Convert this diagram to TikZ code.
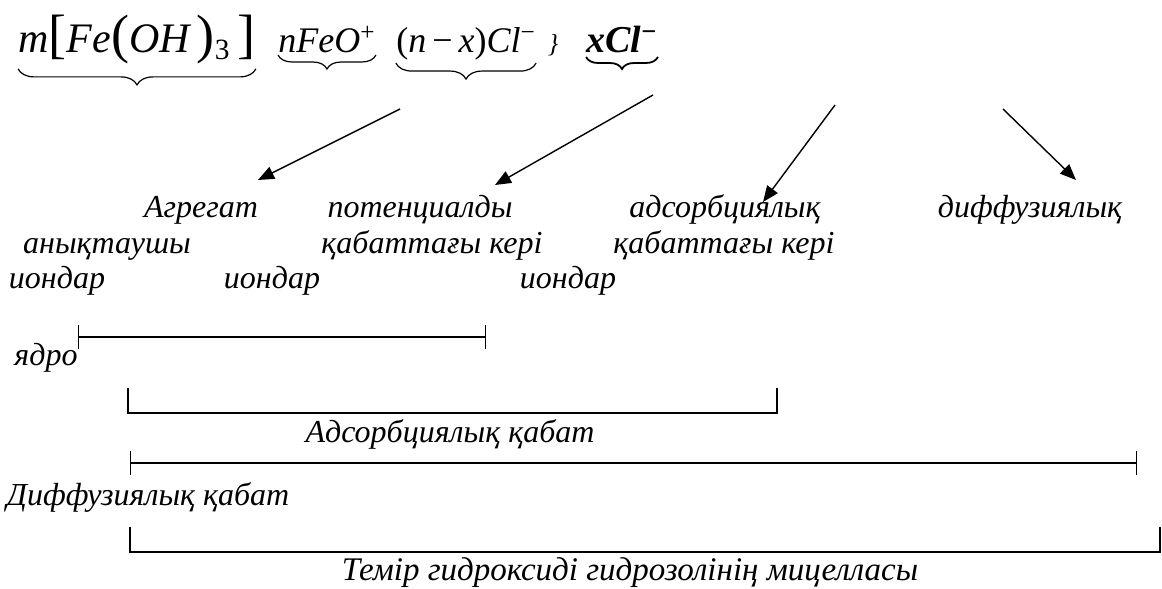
\documentclass[tikz,border=0pt]{standalone}
\usepackage{fontspec}
\setmainfont{Liberation Serif}
\usetikzlibrary{arrows.meta,decorations.pathreplacing}
\tikzset{
  lbl/.style={font=\fontsize{16}{19}\selectfont\itshape, inner sep=0pt, anchor=base},
  frm/.style={inner sep=0pt, anchor=base},
  ubrace/.style={decorate, decoration={brace, mirror, amplitude=#1}, line width=0.6pt},
  ubrace/.default=7pt,
  parr/.style={-{Triangle[length=8pt,width=6.5pt]}, line width=0.7pt},
  lspan/.style={{Bar[width=12pt]}-{Bar[width=12pt]}, line width=0.7pt},
  bracket/.style={line width=0.8pt},
}
\newcommand{\bigbr}[1]{{\fontsize{27}{27}\selectfont\upshape\mdseries #1}}

\begin{document}
\begin{tikzpicture}[x=0.5pt, y=-0.5pt]
  \useasboundingbox (0,0) rectangle (1162,589);
  % formula
  \node[frm, font=\fontsize{21}{24}\selectfont\itshape] (f1) at (137,53)
    {m\bigbr{[}Fe\bigbr{(}OH\,\bigbr{)}\textsubscript{\upshape 3}\,\bigbr{]}};
  \node[frm, font=\fontsize{18}{20}\selectfont\itshape] (f2) at (327,53) {nFeO\textsuperscript{\upshape +}};
  \node[frm, font=\fontsize{18}{20}\selectfont\upshape] (f3) at (466,53)
    {(\textit{n}\,−\,\textit{x})\textit{Cl}\textsuperscript{−}};
  \node[frm, font=\fontsize{13}{14}\selectfont\itshape] (f3b) at (553,53) {\}};
  \node[frm, font=\fontsize{19}{20}\selectfont\bfseries\itshape] (f4) at (622,53) {xCl\textsuperscript{\upshape −}};
  \draw[ubrace=8pt] ([yshift=-2pt]f1.south west) -- ([yshift=-2pt]f1.south east);
  \draw[ubrace=7pt] ([yshift=-1pt]f2.base west) -- ([yshift=-1pt]f2.base east);
  \draw[ubrace=8pt] ([yshift=-1pt]f3.south west) -- ([yshift=-1pt]f3.south east);
  \draw[ubrace=6pt, line width=0.9pt] ([yshift=-2pt]f4.base west) -- ([yshift=-2pt]f4.base east);

  % ions
  \node[lbl] (agr1) at (201,217) {Агрегат};
  \node[lbl] (agr2) at (107,253) {анықтаушы};
  \node[lbl] (agr3) at (57,288) {иондар};
  \node[lbl] (pot1) at (420,217) {потенциалды};
  \node[lbl] (pot2) at (432,253) {қабаттағы кері};
  \node[lbl] (pot3) at (272,288) {иондар};
  \node[lbl] (ads1) at (725,217) {адсорбциялық};
  \node[lbl] (ads2) at (724,253) {қабаттағы кері};
  \node[lbl] (ads3) at (568,288) {иондар};
  \node[lbl] (dif1) at (1030,217) {диффузиялық};

  \coordinate (s1) at (400,109);  \coordinate (t1) at (258,180);
  \coordinate (s2) at (653,95);   \coordinate (t2) at (495,185);
  \coordinate (s3) at (835,105);  \coordinate (t3) at (763,202);
  \coordinate (s4) at (1003,109); \coordinate (t4) at (1076,180);
  \foreach \i in {1,...,4}
    \draw[parr] (s\i) -- (t\i);

  % layers
  \node[lbl] (core) at (46,365) {ядро};
  \coordinate (coreL) at (78,337); \coordinate (coreR) at (486,337);
  \draw[lspan] (coreL) -- (coreR);

  \coordinate (adsL) at (128,388); \coordinate (adsR) at (777,388);
  \draw[bracket] (adsL) -- ++(0,25) -| (adsR);
  \node[lbl] (adsl) at (450,442) {Адсорбциялық қабат};

  \coordinate (difL) at (130,463); \coordinate (difR) at (1137,463);
  \draw[lspan] (difL) -- (difR);
  \node[lbl] (difl) at (148,505) {Диффузиялық қабат};

  \coordinate (micL) at (130,527); \coordinate (micR) at (1160,527);
  \draw[bracket] (micL) -- ++(0,25) -| (micR);
  \node[lbl, font=\fontsize{16.5}{19}\selectfont\itshape] (mic) at (630,580) {Темір гидроксиді гидрозолінің мицелласы};
\end{tikzpicture}
\end{document}
